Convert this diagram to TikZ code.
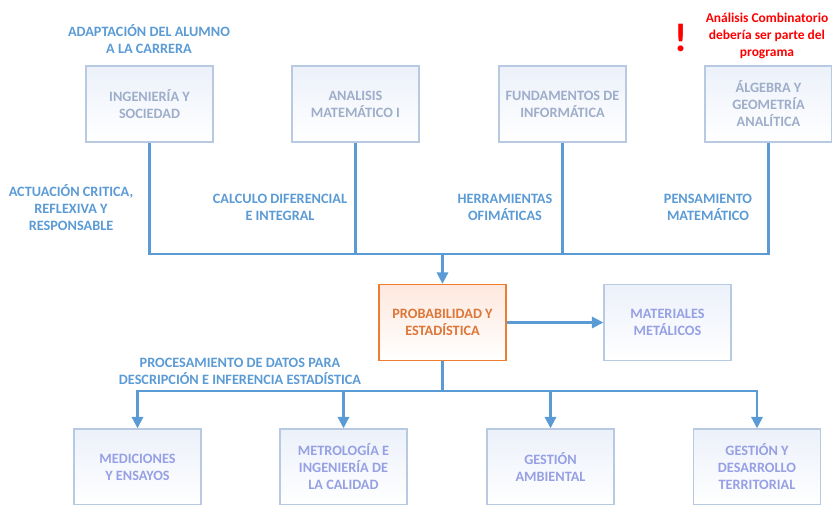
\documentclass[tikz,border=0pt]{standalone}
\usepackage{fontspec}
\setmainfont{Carlito}
\usetikzlibrary{arrows.meta}
\definecolor{lin}{RGB}{91, 155, 213}
\definecolor{brd}{RGB}{184, 201, 226}
\definecolor{gry}{RGB}{158, 174, 202}
\definecolor{lav}{RGB}{150, 160, 228}
\definecolor{org}{RGB}{237, 125, 49}
\definecolor{orgt}{RGB}{222, 118, 56}
\definecolor{shd}{RGB}{236, 241, 250}
\definecolor{shdo}{RGB}{253, 232, 222}
\definecolor{red}{RGB}{255, 0, 0}

\tikzset{
    box/.style={draw=brd, line width=1.1pt, top color=shd, bottom color=white,
        minimum width=95.25pt, minimum height=57pt, inner sep=0pt, align=center,
        font=\bfseries\fontsize{10.7}{12.75}\selectfont},
    conn/.style={draw=lin, line width=1.6pt},
    arrow/.style={conn, -{Triangle[width=8.5pt, length=8.5pt]}},
    lbl/.style={text=lin, align=center, font=\bfseries\fontsize{10.7}{12.75}\selectfont}
}

\begin{document}
\begin{tikzpicture}[x=0.75pt, y=-0.75pt]
        \useasboundingbox (0, 0) rectangle (832, 504);
        % materias anteriores
        \node[box, text=gry] (ing) at (149.5, 104) {INGENIERÍA Y\\SOCIEDAD};
        \node[box, text=gry] (ana) at (355.5, 104) {ANALISIS\\MATEMÁTICO I};
        \node[box, text=gry] (fun) at (562.5, 104) {FUNDAMENTOS DE\\INFORMÁTICA};
        \node[box, text=gry] (alg) at (768.5, 104) {ÁLGEBRA Y\\GEOMETRÍA\\ANALÍTICA};
        % materia central
        \node[box, draw=org, top color=shdo, text=orgt] (prob) at (442.5, 322.5) {PROBABILIDAD Y\\ESTADÍSTICA};
        \node[box, text=lav] (mat) at (667.5, 322.5) {MATERIALES\\METÁLICOS};
        % materias posteriores
        \node[box, text=lav] (med) at (137.5, 467) {MEDICIONES\\Y ENSAYOS};
        \node[box, text=lav] (met) at (343.5, 467) {METROLOGÍA E\\INGENIERÍA DE\\LA CALIDAD};
        \node[box, text=lav] (ges) at (550.5, 467) {GESTIÓN\\AMBIENTAL};
        \node[box, text=lav] (des) at (757, 467) {GESTIÓN Y\\DESARROLLO\\TERRITORIAL};
        % uniones
        \coordinate (top) at (442.5, 254);
        \coordinate (bot) at (442.5, 391);
        \draw[conn] (ing.south) |- (top);
        \draw[conn] (ana.south) |- (top);
        \draw[conn] (fun.south) |- (top);
        \draw[conn] (alg.south) |- (top);
        \draw[arrow] (top) -- (prob.north);
        \draw[arrow] (prob.east) -- (mat.west);
        \draw[conn] (prob.south) -- (bot);
        \draw[arrow] (bot) -| (med.north);
        \draw[arrow] (bot) -| (met.north);
        \draw[arrow] (bot) -| (ges.north);
        \draw[arrow] (bot) -| (des.north);
        % competencias
        \node[lbl] (l1) at (149, 39.5) {ADAPTACIÓN DEL ALUMNO\\A LA CARRERA};
        \node[lbl] (l2) at (71, 207.5) {ACTUACIÓN CRITICA,\\REFLEXIVA Y\\RESPONSABLE};
        \node[lbl] (l3) at (280, 207.5) {CALCULO DIFERENCIAL\\E INTEGRAL};
        \node[lbl] (l4) at (505, 207.5) {HERRAMIENTAS\\OFIMÁTICAS};
        \node[lbl] (l5) at (708, 207.5) {PENSAMIENTO\\MATEMÁTICO};
        \node[lbl] (l6) at (240, 371) {PROCESAMIENTO DE DATOS PARA\\DESCRIPCIÓN E INFERENCIA ESTADÍSTICA};
        % nota
        \node[text=red, align=center, font=\bfseries\fontsize{10.1}{12.75}\selectfont] (nota) at (767, 35.5) {Análisis Combinatorio\\debería ser parte del\\programa};
        \node[text=red, font=\bfseries\fontsize{30}{30}\selectfont] (excl) at (681, 38) {!};
\end{tikzpicture}
\end{document}
